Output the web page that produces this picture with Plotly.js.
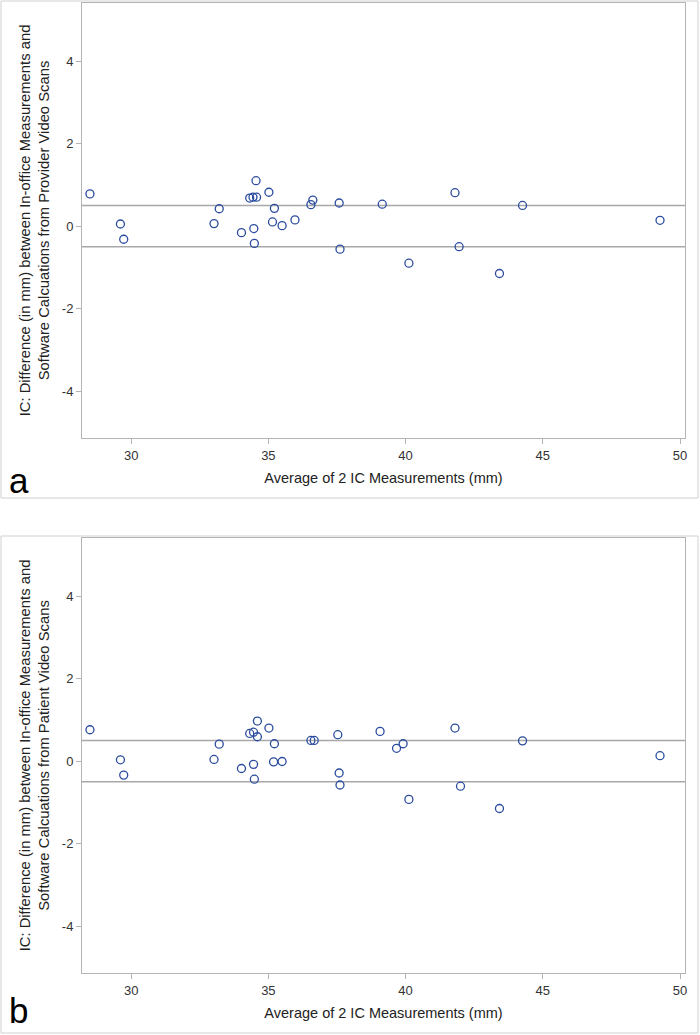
<!DOCTYPE html>
<html>
<head>
<meta charset="utf-8">
<script src="https://cdn.plot.ly/plotly-3.0.1.min.js"></script>
<style>
  html, body { margin: 0; padding: 0; background: #fff; }
  #chart { width: 700px; height: 1035px; }
</style>
</head>
<body>
<div id="chart"></div>
<script>
// ---- Data ----
// Panel a: Provider video scans
const avgA = [28.50, 29.61, 29.73, 33.02, 33.21, 34.02, 34.32, 34.44, 34.57, 34.55,
              34.47, 34.49, 35.02, 35.22, 35.15, 35.50, 35.97, 36.55, 36.62, 37.58,
              37.61, 39.15, 40.12, 41.80, 41.95, 43.42, 44.26, 49.27];
const diffA = [0.78, 0.05, -0.32, 0.06, 0.42, -0.16, 0.68, 0.70, 0.70, 1.10,
               -0.06, -0.42, 0.82, 0.43, 0.10, 0.01, 0.15, 0.52, 0.63, 0.56,
               -0.56, 0.53, -0.90, 0.81, -0.50, -1.15, 0.50, 0.14];
// Panel b: Patient video scans
const avgB = [28.50, 29.61, 29.73, 33.02, 33.21, 34.02, 34.32, 34.46, 34.60, 34.60,
              34.46, 34.49, 35.02, 35.22, 35.19, 35.50, 36.55, 36.67, 37.53, 37.58,
              37.61, 39.07, 39.67, 39.91, 40.12, 41.80, 42.00, 43.42, 44.26, 49.27];
const diffB = [0.76, 0.03, -0.34, 0.04, 0.41, -0.18, 0.67, 0.70, 0.59, 0.97,
               -0.08, -0.44, 0.80, 0.42, -0.02, -0.01, 0.50, 0.50, 0.64, -0.29,
               -0.58, 0.72, 0.31, 0.42, -0.93, 0.80, -0.61, -1.15, 0.49, 0.13];
const limits = [0.5, -0.5];
const xTicks = [30, 35, 40, 45, 50];
const yTicks = [-4, -2, 0, 2, 4];
const yTickText = ["-4", "-2", "0", "2", "4"];
const xTitle = "Average of 2 IC Measurements (mm)";
const yTitleA = "IC: Difference (in mm) between In-office Measurements and<br>Software Calcuations from Provider Video Scans";
const yTitleB = "IC: Difference (in mm) between In-office Measurements and<br>Software Calcuations from Patient Video Scans";
const panelLabels = ["a", "b"];

// ---- Layout helpers ----
const W = 700, H = 1035;
const px = v => v / W;
const py = v => 1 - v / H;
const FONT = "Liberation Sans, Arial, sans-serif";
const markerColor = "#2B4C9E";
const frameColor = "#B4B4B4";

function scatter(x, y, xa, ya) {
  return {
    type: "scatter", mode: "markers", x: x, y: y, xaxis: xa, yaxis: ya,
    marker: { symbol: "circle-open", size: 8, color: markerColor, line: { width: 1.3, color: markerColor } },
    hoverinfo: "x+y", showlegend: false
  };
}

function xaxisDef() {
  return {
    domain: [px(82), px(685)], range: [28.21, 50.18],
    tickvals: xTicks, ticks: "outside", ticklen: 5, tickcolor: frameColor,
    showline: true, mirror: true, linecolor: frameColor, linewidth: 1,
    showgrid: false, zeroline: false,
    tickfont: { family: FONT, size: 13, color: "#333" },
    title: { text: xTitle, font: { family: FONT, size: 14.5, color: "#222" }, standoff: 11 }
  };
}
function yaxisDef(top, bottom, title, anchor) {
  return {
    domain: [py(bottom), py(top)], range: [-5.14, 5.41], anchor: anchor,
    tickvals: yTicks, ticktext: yTickText, ticks: "outside", ticklen: 5, tickcolor: frameColor,
    showline: true, mirror: true, linecolor: frameColor, linewidth: 1,
    showgrid: false, zeroline: false,
    tickfont: { family: FONT, size: 13, color: "#333" },
    title: { text: title, font: { family: FONT, size: 14.8, color: "#222" }, standoff: 8 }
  };
}

const shapes = [];
// outer panel borders
[[1, 498], [536, 1033]].forEach(function (b) {
  shapes.push({ type: "rect", xref: "paper", yref: "paper", x0: px(1), x1: px(698), y0: py(b[1]), y1: py(b[0]),
                line: { color: "#D0D0D0", width: 1 }, fillcolor: "rgba(0,0,0,0)", layer: "below" });
});
// limit reference lines
[["x", "y"], ["x2", "y2"]].forEach(function (ax) {
  limits.forEach(function (v) {
    shapes.push({ type: "line", xref: ax[0] + " domain", yref: ax[1], x0: 0, x1: 1, y0: v, y1: v,
                  line: { color: "#A8A8A8", width: 1.5 }, layer: "below" });
  });
});

const annotations = panelLabels.map(function (t, i) {
  return { text: t, xref: "paper", yref: "paper", x: px(7), y: py(i === 0 ? 480 : 1010),
           xanchor: "left", yanchor: "middle", showarrow: false,
           font: { family: FONT, size: 35, color: "#000" } };
});

const layout = {
  width: W, height: H,
  margin: { l: 0, r: 0, t: 0, b: 0 },
  paper_bgcolor: "#fff", plot_bgcolor: "#fff",
  showlegend: false,
  xaxis: Object.assign(xaxisDef(), { anchor: "y" }), yaxis: yaxisDef(3, 438, yTitleA, "x"),
  xaxis2: Object.assign(xaxisDef(), { anchor: "y2" }), yaxis2: yaxisDef(538, 973, yTitleB, "x2"),
  shapes: shapes, annotations: annotations
};

Plotly.newPlot("chart", [scatter(avgA, diffA, "x", "y"), scatter(avgB, diffB, "x2", "y2")], layout,
  { staticPlot: true, displayModeBar: false });
</script>
</body>
</html>
